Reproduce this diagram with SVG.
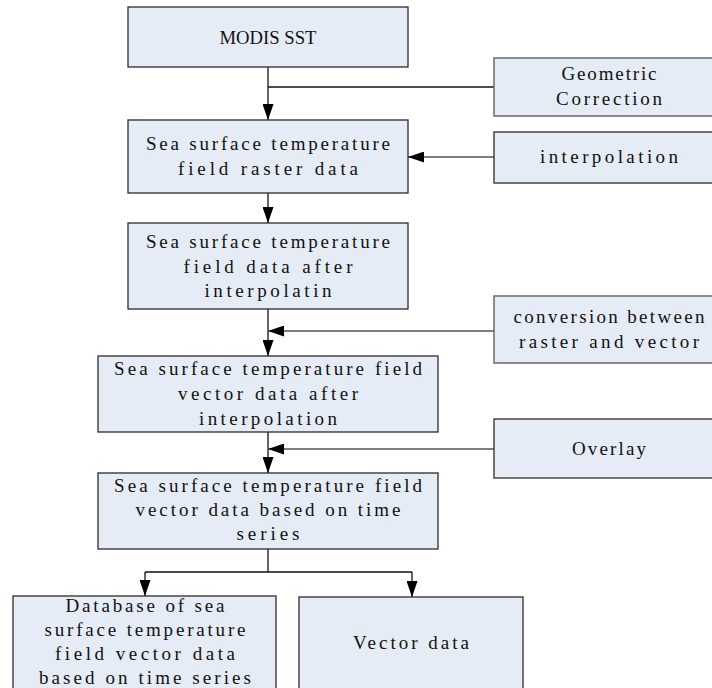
<svg xmlns="http://www.w3.org/2000/svg" width="712" height="688" viewBox="0 0 712 688">
<style>
.box{fill:#E6ECF6;stroke:#2b2b2b;stroke-width:1.3}
.box2{fill:#E6ECF6;stroke:#6a6a6a;stroke-width:1.5}
text{font-family:"Liberation Serif","Times New Roman",serif;font-size:19px;fill:#111;text-anchor:middle}
.ln{stroke:#111;stroke-width:1.3;fill:none}
.lg{stroke:#555;stroke-width:1.6;fill:none}
</style>
<defs>
<marker id="ah" viewBox="0 0 16 11" refX="16" refY="5.5" markerWidth="16" markerHeight="11" markerUnits="userSpaceOnUse" orient="auto">
<path d="M0,0 L16,5.5 L0,11 Z" fill="#000"/>
</marker>
</defs>
<rect width="712" height="688" fill="#fff"/>
<g id="connectors">
<path class="ln" d="M268,67 V120" marker-end="url(#ah)"/>
<path class="ln" d="M268,87 H494"/>
<path class="lg" d="M494,157 H408" marker-end="url(#ah)"/>
<path class="ln" d="M268,193 V223" marker-end="url(#ah)"/>
<path class="ln" d="M268,309 V356" marker-end="url(#ah)"/>
<path class="lg" d="M494,331 H268" marker-end="url(#ah)"/>
<path class="ln" d="M268,432 V473" marker-end="url(#ah)"/>
<path class="lg" d="M494,449 H268" marker-end="url(#ah)"/>
<path class="ln" d="M268,549 V572"/>
<path class="ln" d="M145,572 H412"/>
<path class="ln" d="M145,572 V596" marker-end="url(#ah)"/>
<path class="ln" d="M412,572 V597" marker-end="url(#ah)"/>
</g>
<g id="modis">
<rect class="box" x="128" y="7" width="280" height="60"/>
<text x="268" y="44" textLength="97" lengthAdjust="spacingAndGlyphs">MODIS SST</text>
</g>
<g id="raster">
<rect class="box" x="128" y="120" width="280" height="73"/>
<text x="268" y="150" textLength="244" lengthAdjust="spacing">Sea surface temperature</text>
<text x="268" y="175" textLength="180" lengthAdjust="spacing">field raster data</text>
</g>
<g id="after-interp">
<rect class="box" x="128" y="223" width="280" height="86"/>
<text x="268" y="248" textLength="244" lengthAdjust="spacing">Sea surface temperature</text>
<text x="268" y="273" textLength="169" lengthAdjust="spacing">field data after</text>
<text x="268" y="297" textLength="127" lengthAdjust="spacing">interpolatin</text>
</g>
<g id="vector-after">
<rect class="box" x="98" y="356" width="340" height="76"/>
<text x="268" y="375" textLength="308" lengthAdjust="spacing">Sea surface temperature field</text>
<text x="268" y="400" textLength="180" lengthAdjust="spacing">vector data after</text>
<text x="268" y="425" textLength="138" lengthAdjust="spacing">interpolation</text>
</g>
<g id="vector-time">
<rect class="box" x="98" y="473" width="340" height="76"/>
<text x="268" y="492" textLength="308" lengthAdjust="spacing">Sea surface temperature field</text>
<text x="268" y="516" textLength="265" lengthAdjust="spacing">vector data based on time</text>
<text x="268" y="540" textLength="63" lengthAdjust="spacing">series</text>
</g>
<g id="database">
<rect class="box" x="13" y="596" width="263" height="100"/>
<text x="145" y="612" textLength="159" lengthAdjust="spacing">Database of sea</text>
<text x="145" y="636" textLength="201" lengthAdjust="spacing">surface temperature</text>
<text x="145" y="660" textLength="180" lengthAdjust="spacing">field vector data</text>
<text x="145" y="684" textLength="212" lengthAdjust="spacing">based on time series</text>
</g>
<g id="vector-data">
<rect class="box" x="299" y="597" width="224" height="100"/>
<text x="411" y="649" textLength="116" lengthAdjust="spacing">Vector data</text>
</g>
<g id="geometric">
<rect class="box2" x="494" y="58" width="230" height="58"/>
<text x="609" y="80" textLength="95" lengthAdjust="spacing">Geometric</text>
<text x="609" y="105" textLength="106" lengthAdjust="spacing">Correction</text>
</g>
<g id="interpolation">
<rect class="box" x="494" y="132" width="230" height="51"/>
<text x="609" y="163" textLength="138" lengthAdjust="spacing">interpolation</text>
</g>
<g id="conversion">
<rect class="box2" x="494" y="296" width="230" height="67"/>
<text x="609" y="323" textLength="191" lengthAdjust="spacing">conversion between</text>
<text x="609" y="348" textLength="180" lengthAdjust="spacing">raster and vector</text>
</g>
<g id="overlay">
<rect class="box" x="494" y="419" width="230" height="59"/>
<text x="609" y="455" textLength="74" lengthAdjust="spacing">Overlay</text>
</g>
</svg>
